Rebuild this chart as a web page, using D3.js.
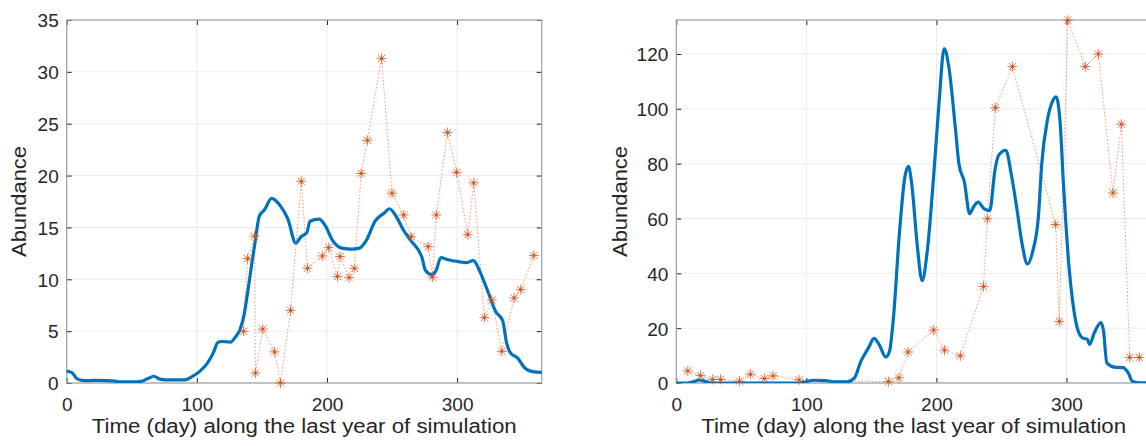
<!DOCTYPE html>
<html>
<head>
<meta charset="utf-8">
<script src="https://cdn.jsdelivr.net/npm/d3@7/dist/d3.min.js"></script>
<style>
  html, body { margin: 0; padding: 0; background: #fff; }
  svg { display: block; }
  text { font-family: "Liberation Sans", Arial, Helvetica, sans-serif; fill: #262626; }
</style>
</head>
<body>
<svg id="chart" width="1146" height="446"></svg>
<script>
// ---------- DATA ----------
const xTicks = [0, 100, 200, 300];
const leftYTicks = [0, 5, 10, 15, 20, 25, 30, 35];
const rightYTicks = [0, 20, 40, 60, 80, 100, 120];
const xLabel = "Time (day) along the last year of simulation";
const yLabel = "Abundance";

// Left panel: simulated abundance (blue line)
const leftModelDay = [0, 4, 8, 14, 20, 25, 35, 42, 50, 57, 62, 67, 71, 76, 85, 91, 96, 102, 108, 113, 116, 119, 126, 130, 133, 136, 139, 142, 145, 148, 152, 157.5, 164.6, 170, 176, 180, 184.5, 187, 194, 199, 204, 211.5, 218.6, 225, 230, 237, 244, 248, 253, 258.5, 264, 273, 275.5, 280.6, 284, 287.5, 292.5, 301, 307, 312.5, 318, 324, 329.6, 335, 338, 341, 346.6, 352, 358, 365];
const leftModelVal = [1.13, 1.0, 0.4, 0.22, 0.25, 0.25, 0.2, 0.1, 0.1, 0.15, 0.4, 0.65, 0.4, 0.3, 0.3, 0.3, 0.6, 1.1, 1.9, 3.0, 3.9, 4.0, 3.95, 4.5, 5.1, 6.4, 8.7, 11.3, 13.8, 16.1, 16.7, 17.8, 17.0, 15.8, 13.5, 14.1, 14.5, 15.6, 15.8, 15.1, 13.8, 13.0, 12.9, 13.0, 13.7, 15.6, 16.4, 16.8, 16.1, 14.8, 13.8, 12.1, 10.9, 10.45, 10.9, 12.1, 11.9, 11.7, 11.6, 11.8, 10.6, 8.7, 6.9, 6.0, 3.9, 2.9, 2.4, 1.45, 1.1, 1.03];

// Left panel: observations (orange stars)
const leftObsDay = [135.9, 139, 144.4, 145, 150.7, 159.8, 164.3, 172, 180.3, 185, 196.5, 201.3, 208.1, 210, 217, 221, 226.3, 231, 242, 250, 259, 264.7, 277.8, 281, 284, 292.6, 299.7, 308.2, 312.8, 321, 326.7, 334.4, 343.8, 348.9, 359];
const leftObsVal = [4.98, 12.0, 14.15, 0.96, 5.2, 3.0, 0.0, 7.0, 19.45, 11.06, 12.25, 13.05, 10.26, 12.2, 10.16, 11.06, 20.2, 23.4, 31.3, 18.3, 16.2, 14.1, 13.15, 10.2, 16.2, 24.15, 20.3, 14.3, 19.3, 6.3, 8.0, 3.05, 8.2, 9.0, 12.3];

// Right panel: simulated abundance (blue line)
const rightModelDay = [0, 9, 14.7, 17.5, 21.6, 26, 37, 60, 95, 98, 106, 114.6, 123, 131, 137, 142, 148, 152, 156, 161, 164, 167, 171.5, 175.7, 178.5, 181, 185.4, 189, 193, 198, 202, 206, 209.5, 214.5, 217.3, 221.5, 225.6, 228.4, 232, 236.8, 241, 245, 247.8, 253.4, 257.5, 261.7, 265.9, 270, 274.2, 278.4, 281, 285.3, 289.5, 292, 295, 297.8, 302, 304.7, 309, 313, 316, 317.8, 321.5, 326.5, 328.5, 331, 336.7, 343.6, 347.8, 350.5, 356, 365];
const rightModelVal = [0, 0, 0.7, 1.1, 0.7, 0.1, 0, 0, 0, 0.3, 1.0, 0.85, 0.4, 0.4, 1.9, 8, 13, 16.3, 14, 9.5, 11.7, 24, 54.3, 75, 79, 72.7, 49.5, 37.3, 48.3, 76.3, 102, 122, 115.4, 93.4, 80, 73.3, 61.7, 64.1, 66, 63.5, 62.9, 77.6, 83, 84.9, 76.3, 64.1, 50.7, 43.4, 48.3, 60.5, 80, 95.8, 103, 104.4, 95.8, 71.5, 42.2, 30, 19, 16.3, 16, 14.1, 18.4, 22, 19, 7.4, 5.8, 5.6, 3.4, 0.7, 0.1, 0];

// Right panel: observations (orange stars)
const rightObsDay = [8.9, 18.6, 28, 34, 48.6, 57, 67.7, 74.4, 94.4, 163.2, 171.2, 178.2, 197.9, 206.2, 218.4, 236.2, 239.2, 245.3, 258.4, 291.7, 294.5, 301.1, 314.5, 324.5, 335.8, 342.2, 348.6, 356];
const rightObsVal = [4.4, 2.7, 1.3, 1.3, 0.7, 3.2, 1.6, 2.6, 1.1, 0.5, 1.9, 11.3, 19.3, 12.0, 9.9, 35.2, 59.9, 100.4, 115.4, 57.8, 22.4, 132.3, 115.4, 120, 69.3, 94.4, 9.3, 9.3];

// ---------- DRAW ----------
const svg = d3.select("#chart");
svg.append("rect").attr("width", 1146).attr("height", 446).attr("fill", "#fff");

const BLUE = "#0072BD";
const ORANGE = "#D95319";

function panel(cfg, idx) {
  const x = d3.scaleLinear().domain([0, 365]).range([cfg.left, cfg.right]);
  const y = d3.scaleLinear().domain(cfg.yDomain).range([383, 20]);
  const g = svg.append("g");

  const clipId = "clip" + idx;
  svg.append("clipPath").attr("id", clipId)
    .append("rect").attr("x", cfg.left).attr("y", 20)
    .attr("width", cfg.right - cfg.left).attr("height", 363);

  // grid
  g.append("g").selectAll("line").data(cfg.yTicks).join("line")
    .attr("x1", cfg.left).attr("x2", cfg.right)
    .attr("y1", d => y(d)).attr("y2", d => y(d))
    .attr("stroke", "#ebebeb").attr("stroke-width", 1);
  g.append("g").selectAll("line").data(xTicks).join("line")
    .attr("x1", d => x(d)).attr("x2", d => x(d))
    .attr("y1", 20).attr("y2", 383)
    .attr("stroke", "#ebebeb").attr("stroke-width", 1);

  // axes with inward ticks (D3 axes)
  const axStyle = sel => {
    sel.select(".domain").remove();
    sel.selectAll(".tick line").attr("stroke", "#262626").attr("stroke-width", 1);
    sel.selectAll("text").style("font-family", '"Liberation Sans", Arial, sans-serif')
      .style("font-size", "19px").attr("fill", "#262626");
  };
  const xb = g.append("g").attr("transform", "translate(0,383)")
    .call(d3.axisBottom(x).tickValues(xTicks).tickSize(-5).tickFormat(d3.format("d")));
  axStyle(xb);
  xb.selectAll("text").attr("y", 27.7).attr("dy", 0);
  const xt = g.append("g").attr("transform", "translate(0,20)")
    .call(d3.axisTop(x).tickValues(xTicks).tickSize(-5).tickFormat(""));
  axStyle(xt);
  const yl = g.append("g").attr("transform", `translate(${cfg.left},0)`)
    .call(d3.axisLeft(y).tickValues(cfg.yTicks).tickSize(-5).tickPadding(8).tickFormat(d3.format("d")));
  axStyle(yl);
  yl.selectAll("text").attr("x", -8).attr("dy", "0.36em");
  const yr = g.append("g").attr("transform", `translate(${cfg.right},0)`)
    .call(d3.axisRight(y).tickValues(cfg.yTicks).tickSize(-5).tickFormat(""));
  axStyle(yr);

  // box
  g.append("rect").attr("x", cfg.left).attr("y", 20)
    .attr("width", cfg.right - cfg.left).attr("height", 363)
    .attr("fill", "none").attr("stroke", "#a0a0a0").attr("stroke-width", 1.2);

  const plot = g.append("g").attr("clip-path", `url(#${clipId})`);

  // observations dotted line
  const obs = cfg.obsDay.map((d, i) => [d, cfg.obsVal[i]]);
  plot.append("path").datum(obs)
    .attr("d", d3.line().x(d => x(d[0])).y(d => y(d[1])))
    .attr("fill", "none").attr("stroke", ORANGE).attr("stroke-opacity", 0.6)
    .attr("stroke-width", 1).attr("stroke-dasharray", "1.5,2");

  // model line
  const mod = cfg.modDay.map((d, i) => [d, cfg.modVal[i]]);
  plot.append("path").datum(mod)
    .attr("d", d3.line().curve(d3.curveMonotoneX).x(d => x(d[0])).y(d => y(d[1])))
    .attr("fill", "none").attr("stroke", BLUE).attr("stroke-width", 3.2)
    .attr("stroke-linejoin", "round").attr("stroke-linecap", "round");

  // star markers
  const r = 5, rd = r * 0.72;
  const stars = svg.append("g").selectAll("g").data(obs).join("g")
    .attr("transform", d => `translate(${x(d[0])},${y(d[1])})`)
    .attr("stroke", ORANGE).attr("stroke-width", 1).attr("stroke-opacity", 0.8);
  stars.append("line").attr("x1", -r).attr("x2", r).attr("y1", 0).attr("y2", 0);
  stars.append("line").attr("x1", 0).attr("x2", 0).attr("y1", -r).attr("y2", r);
  stars.append("line").attr("x1", -rd).attr("x2", rd).attr("y1", -rd).attr("y2", rd);
  stars.append("line").attr("x1", -rd).attr("x2", rd).attr("y1", rd).attr("y2", -rd);
  stars.append("circle").attr("r", 1.4).attr("fill", ORANGE).attr("stroke", "none");

  // labels
  svg.append("text").attr("x", (cfg.left + cfg.right) / 2).attr("y", 433)
    .attr("text-anchor", "middle").style("font-size", "20px")
    .attr("textLength", 425).attr("lengthAdjust", "spacingAndGlyphs").text(xLabel);
  svg.append("text")
    .attr("transform", `translate(${cfg.yLabelX},201.5) rotate(-90)`)
    .attr("text-anchor", "middle").style("font-size", "20px")
    .attr("textLength", 111).attr("lengthAdjust", "spacingAndGlyphs").text(yLabel);
}

panel({ left: 66.7, right: 541.7, yDomain: [0, 35], yTicks: leftYTicks,
        modDay: leftModelDay, modVal: leftModelVal, obsDay: leftObsDay, obsVal: leftObsVal,
        yLabelX: 26 }, 0);
panel({ left: 676.3, right: 1151, yDomain: [0, 132.4], yTicks: rightYTicks,
        modDay: rightModelDay, modVal: rightModelVal, obsDay: rightObsDay, obsVal: rightObsVal,
        yLabelX: 626.5 }, 1);
</script>
</body>
</html>
